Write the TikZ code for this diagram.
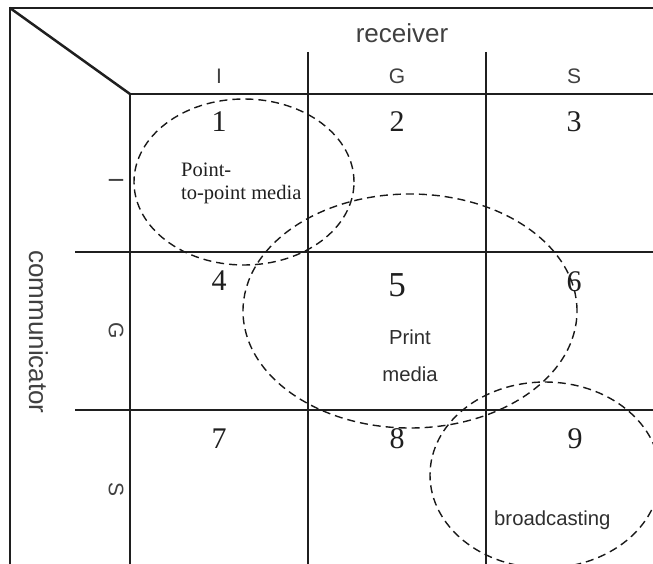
\documentclass[tikz,border=0pt]{standalone}
\usepackage{fontspec}
\setmainfont{Liberation Serif}
\newfontfamily\lblsans{Liberation Sans}
\begin{document}
\begin{tikzpicture}[x=1pt,y=-1pt,
  frame/.style={draw=black!88,line width=2.5pt},
  ring/.style={draw=black!90,line width=1.4pt,dash pattern=on 8pt off 5pt},
  numtxt/.style={inner sep=0pt,text=black!88,font=\fontsize{30}{34}\selectfont},
  bignum/.style={inner sep=0pt,text=black!88,font=\fontsize{35}{38}\selectfont},
  hdr/.style={inner sep=0pt,text=black!75,font=\lblsans\fontsize{21}{24}\selectfont},
  axis/.style={inner sep=0pt,text=black!75,font=\lblsans\fontsize{26}{30}\selectfont},
  serifnote/.style={inner sep=0pt,text=black!88,font=\fontsize{20.5}{24}\selectfont},
  sansnote/.style={inner sep=0pt,text=black!82,font=\lblsans\fontsize{20.3}{24}\selectfont}]
\useasboundingbox (0,0) rectangle (653,564);
\clip (0,0) rectangle (653,564);
% corner coordinates
\coordinate (tl) at (10,8);
\coordinate (tr) at (653,8);
\coordinate (bl) at (10,564);
\coordinate (c0) at (130,94);
% frame
\draw[frame] (tr) -- (tl) -- (bl);
\draw[frame] (tl) -- (c0);
% grid
\draw[frame] (c0) -- (653,94);
\draw[frame] (75,252) -- (653,252);
\draw[frame] (75,410) -- (653,410);
\draw[frame] (c0) -- (130,564);
\draw[frame] (308,52) -- (308,564);
\draw[frame] (486,52) -- (486,564);
% headers
\node[axis,anchor=base] (recv) at (402,43) {receiver};
\node[axis,anchor=base,rotate=-90] (comm) at (29,332) {communicator};
\node[hdr] (cI) at (219,76) {I};
\node[hdr] (cG) at (397,76) {G};
\node[hdr] (cS) at (574,76) {S};
\node[hdr,rotate=-90] (rI) at (116,180) {I};
\node[hdr,rotate=-90] (rG) at (116,331) {G};
\node[hdr,rotate=-90] (rS) at (116,490) {S};
% numbers
\node[numtxt] (n1) at (219,122) {1};
\node[numtxt] (n2) at (397,122) {2};
\node[numtxt] (n3) at (574,122) {3};
\node[numtxt] (n4) at (219,281) {4};
\node[bignum] (n5) at (397,285) {5};
\node[numtxt] (n6) at (574,282) {6};
\node[numtxt] (n7) at (219,439) {7};
\node[numtxt] (n8) at (397,439) {8};
\node[numtxt] (n9) at (575,439) {9};
% ellipses
\draw[ring] (244,182) ellipse [x radius=110pt, y radius=83pt];
\draw[ring] (410,311) ellipse [x radius=167pt, y radius=117pt];
\draw[ring] (545,475) ellipse [x radius=115pt, y radius=93pt];
% labels
\node[serifnote,anchor=base west] (p1) at (181,177) {Point-};
\node[serifnote,anchor=base west] (p2) at (181,200) {to-point media};
\node[sansnote,anchor=base] (pm1) at (410,344) {Print};
\node[sansnote,anchor=base] (pm2) at (410,381) {media};
\node[sansnote,anchor=base west] (bc) at (494,525) {broadcasting};
\end{tikzpicture}
\end{document}
